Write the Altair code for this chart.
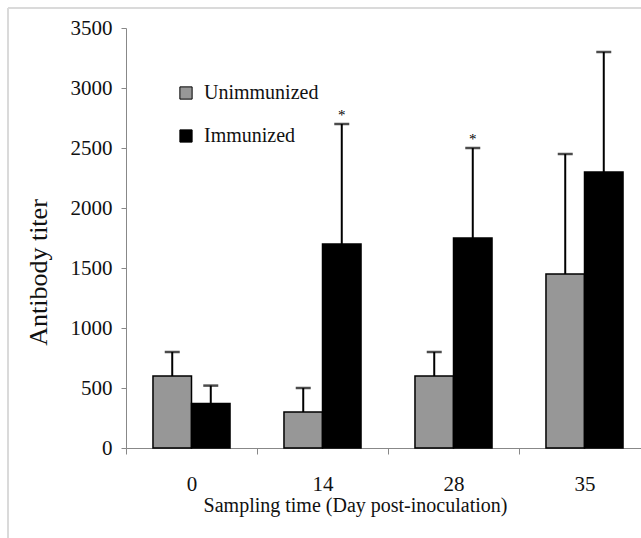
import altair as alt
import pandas as pd

# Antibody titer by sampling day, mean and SD for each group
days = ["0", "14", "28", "35"]
groups = ["Unimmunized", "Immunized"]
unimmunized_mean = [600, 300, 600, 1450]
unimmunized_sd = [200, 200, 200, 1000]
immunized_mean = [370, 1700, 1750, 2300]
immunized_sd = [150, 1000, 750, 1000]
immunized_mark = ["", "*", "*", ""]
y_ticks = [0, 500, 1000, 1500, 2000, 2500, 3000, 3500]

rows = []
for i, d in enumerate(days):
    rows.append({"day": d, "group": groups[0], "mean": unimmunized_mean[i],
                 "top": unimmunized_mean[i] + unimmunized_sd[i], "mark": ""})
    rows.append({"day": d, "group": groups[1], "mean": immunized_mean[i],
                 "top": immunized_mean[i] + immunized_sd[i], "mark": immunized_mark[i]})
df = pd.DataFrame(rows)

FONT = "Liberation Serif"

x_enc = alt.X(
    "day:N", sort=days,
    scale=alt.Scale(range=[0, 524], paddingInner=0, paddingOuter=0),
    axis=alt.Axis(
        title="Sampling time (Day post-inoculation)", labelAngle=0,
        tickBand="extent", tickSize=6, labelPadding=19,
        domainColor="#888888", tickColor="#888888",
        labelFontSize=21, labelFont=FONT, labelColor="#111111",
        titleFontSize=20, titleFont=FONT, titleFontWeight="normal",
        titleColor="#111111", titleX=229, titleY=57,
        titleBaseline="middle", titleAlign="center",
    ),
)
off_enc = alt.XOffset("group:N", sort=groups,
                      scale=alt.Scale(paddingOuter=0.7, paddingInner=0))
y_scale = alt.Scale(domain=[0, 3500], nice=False)

base = alt.Chart(df)

bars = base.mark_bar(stroke="black", strokeWidth=1.5).encode(
    x=x_enc,
    xOffset=off_enc,
    y=alt.Y(
        "mean:Q", scale=y_scale,
        axis=alt.Axis(
            title="Antibody titer", values=y_ticks, format="d", grid=False,
            tickSize=5, labelPadding=9,
            domainColor="#888888", tickColor="#888888",
            labelFontSize=21, labelFont=FONT, labelColor="#111111",
            titleFontSize=26, titleFont=FONT, titleFontWeight="normal",
            titleColor="#111111", titleX=-88, titleY=244,
            titleAngle=-90, titleBaseline="middle", titleAlign="center",
        ),
    ),
    color=alt.Color(
        "group:N",
        scale=alt.Scale(domain=groups, range=["#979797", "#000000"]),
        legend=alt.Legend(
            title=None, orient="none", legendX=50, legendY=55,
            symbolType="square", symbolSize=150,
            symbolStrokeColor="black", symbolStrokeWidth=1,
            labelFont=FONT, labelFontSize=20, labelColor="#111111",
            labelOffset=8, rowPadding=23,
        ),
    ),
)

err = base.mark_rule(color="black", strokeWidth=2).encode(
    x=x_enc, xOffset=off_enc,
    y=alt.Y("mean:Q", scale=y_scale), y2="top:Q",
)

caps = base.mark_tick(color="black", size=15, thickness=2.5).encode(
    x=x_enc, xOffset=off_enc,
    y=alt.Y("top:Q", scale=y_scale),
)

stars = base.mark_text(font=FONT, fontSize=15, dy=-9, color="black").encode(
    x=x_enc, xOffset=off_enc,
    y=alt.Y("top:Q", scale=y_scale),
    text="mark:N",
)

# light frame around the chart area
frame_data = alt.Data(values=[{"k": 1}])
frame_left = alt.Chart(frame_data).mark_rule(color="#dadada", strokeWidth=2).encode(
    x=alt.value(-118), y=alt.value(-20), y2=alt.value(520),
)
frame_top = alt.Chart(frame_data).mark_rule(color="#dadada", strokeWidth=2).encode(
    x=alt.value(-118), x2=alt.value(530), y=alt.value(-20),
)

chart = alt.layer(frame_left, frame_top, bars, err, caps, stars).properties(
    width=515, height=420,
    padding={"left": 126, "top": 28, "right": 0, "bottom": 90},
    autosize=alt.AutoSizeParams(type="none"),
    background="white",
).configure_view(stroke=None)

chart.save("out.html", embed_options={"renderer": "svg", "actions": False})
